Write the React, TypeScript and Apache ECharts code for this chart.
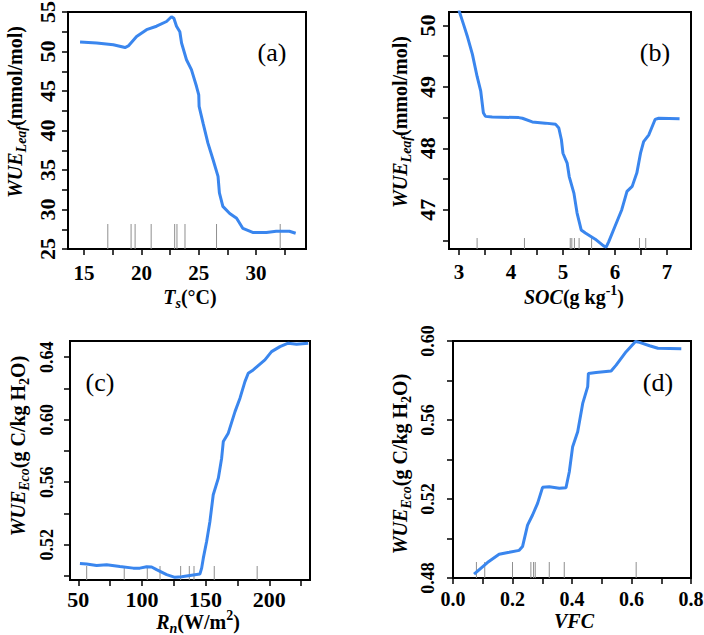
import React, { useEffect, useRef } from "react";
import * as echarts from "echarts";

// (a) leaf WUE response to soil temperature
const tsValues = [14.65, 16.1, 17.55, 18.57, 18.86, 19.58, 20.45, 21.32, 22.19, 22.62, 22.83, 23.06, 23.35, 23.5, 23.93, 24.36, 24.8, 25.0, 25.03, 25.38, 25.8, 26.25, 26.68, 26.8, 27.1, 27.7, 28.3, 28.85, 29.7, 30.9, 31.75, 32.9, 33.45];
const wueLeafTs = [51.2, 51.07, 50.86, 50.5, 50.7, 51.9, 52.76, 53.2, 53.8, 54.4, 54.2, 53.2, 52.5, 51.07, 48.96, 47.7, 45.6, 44.5, 43.05, 40.9, 38.4, 36.3, 34.2, 32.1, 30.4, 29.5, 28.9, 27.6, 27.1, 27.1, 27.25, 27.25, 27.0];
const tsRug = [17.07, 19.1, 19.45, 20.85, 22.9, 23.1, 23.8, 26.55, 32.1];

// (b) leaf WUE response to soil organic carbon
const socValues = [3.0, 3.1, 3.16, 3.26, 3.35, 3.42, 3.47, 3.51, 3.64, 4.15, 4.22, 4.41, 4.66, 4.86, 4.92, 4.97, 5.0, 5.08, 5.12, 5.21, 5.27, 5.35, 5.43, 5.62, 5.78, 5.83, 5.88, 6.0, 6.13, 6.23, 6.33, 6.42, 6.49, 6.55, 6.65, 6.77, 6.84, 7.24];
const wueLeafSoc = [50.25, 49.99, 49.83, 49.53, 49.17, 48.93, 48.58, 48.52, 48.51, 48.5, 48.49, 48.43, 48.41, 48.39, 48.33, 48.14, 47.92, 47.76, 47.54, 47.27, 46.95, 46.67, 46.62, 46.52, 46.41, 46.39, 46.48, 46.73, 47.0, 47.3, 47.38, 47.6, 47.92, 48.11, 48.22, 48.47, 48.49, 48.48];
const socRug = [3.35, 4.26, 5.14, 5.17, 5.22, 5.31, 5.55, 6.47, 6.59];

// (c) ecosystem WUE response to net radiation
const rnValues = [51.3, 56.5, 64.4, 72.3, 82.7, 93.2, 98.4, 103.7, 107.6, 111.5, 119.4, 125.9, 131.2, 137.7, 145.5, 146.9, 148.2, 150.8, 153.4, 156.0, 160.0, 162.6, 163.9, 167.8, 173.1, 177.0, 180.9, 183.5, 187.4, 196.6, 201.8, 208.4, 214.9, 221.5, 230.6];
const wueEcoRn = [0.508, 0.5076, 0.5067, 0.5072, 0.5061, 0.505, 0.505, 0.5059, 0.5057, 0.504, 0.5008, 0.4991, 0.4995, 0.5003, 0.5012, 0.505, 0.5114, 0.522, 0.5349, 0.552, 0.5626, 0.5754, 0.586, 0.5914, 0.6052, 0.6138, 0.6244, 0.6298, 0.6319, 0.6383, 0.6436, 0.6468, 0.649, 0.6483, 0.649];
const rnRug = [56.6, 86.1, 104.2, 114.2, 130.4, 137.2, 140.9, 156.8, 190.5];

// (d) ecosystem WUE response to vegetation fractional cover
const vfcValues = [0.0708, 0.0933, 0.1157, 0.155, 0.189, 0.2225, 0.2337, 0.2506, 0.2674, 0.2843, 0.3011, 0.3236, 0.3573, 0.3798, 0.391, 0.4022, 0.4191, 0.436, 0.4528, 0.4551, 0.4809, 0.5315, 0.5483, 0.582, 0.6135, 0.627, 0.6607, 0.6888, 0.7674];
const wueEcoVfc = [0.4819, 0.4849, 0.4878, 0.492, 0.493, 0.494, 0.4959, 0.5068, 0.5119, 0.5178, 0.5259, 0.5262, 0.5254, 0.5257, 0.5338, 0.5465, 0.5541, 0.5684, 0.5769, 0.5836, 0.5841, 0.5848, 0.5878, 0.5946, 0.5997, 0.5993, 0.5976, 0.5963, 0.5961];
const vfcRug = [0.0787, 0.1067, 0.2, 0.2618, 0.2708, 0.2764, 0.3236, 0.374, 0.6157];

// tick positions and labelled ticks
const tsTicks = [15, 17.5, 20, 22.5, 25, 27.5, 30, 32.5];
const tsLabels = [15, 20, 25, 30];
const wueTsTicks = [25, 27.5, 30, 32.5, 35, 37.5, 40, 42.5, 45, 47.5, 50, 52.5, 55];
const wueTsLabels = [25, 30, 35, 40, 45, 50, 55];
const socTicks = [3, 3.5, 4, 4.5, 5, 5.5, 6, 6.5, 7];
const socLabels = [3, 4, 5, 6, 7];
const wueSocTicks = [46.5, 47, 47.5, 48, 48.5, 49, 49.5, 50];
const wueSocLabels = [47, 48, 49, 50];
const rnTicks = [50, 75, 100, 125, 150, 175, 200, 225];
const rnLabels = [50, 100, 150, 200];
const wueRnTicks = [0.5, 0.52, 0.54, 0.56, 0.58, 0.6, 0.62, 0.64];
const wueRnLabels = [0.52, 0.56, 0.6, 0.64];
const vfcTicks = [0, 0.1, 0.2, 0.3, 0.4, 0.5, 0.6, 0.7, 0.8];
const vfcLabels = [0, 0.2, 0.4, 0.6, 0.8];
const wueVfcTicks = [0.48, 0.5, 0.52, 0.54, 0.56, 0.58, 0.6];
const wueVfcLabels = [0.48, 0.52, 0.56, 0.6];

const SERIF = "Liberation Serif";
const LINE_BLUE = "#3a86ee";
const RUG_GREY = "#8f8f8f";

const pairs = (xs: number[], ys: number[]) => xs.map((x, i) => [x, ys[i]]);

// panel boxes, tick-label distance from each axis and tick-label font sizes
const panels = [
  { left: 68, top: 12, width: 238, height: 237, xGap: 24, yGap: 21, xFont: 21, yFont: 22 },
  { left: 449, top: 12, width: 242, height: 237, xGap: 23, yGap: 22, xFont: 21, yFont: 22 },
  { left: 70, top: 341, width: 240, height: 239, xGap: 19, yGap: 23, xFont: 22, yFont: 18 },
  { left: 453, top: 341, width: 238, height: 237, xGap: 21, yGap: 25, xFont: 20, yFont: 18 },
];

const tickStyle = { show: true, inside: false, length: 6, lineStyle: { color: "#000", width: 1.5 } };

function axisDef(idx: number, range: number[], ticks: number[]) {
  return {
    type: "value",
    gridIndex: idx,
    min: range[0],
    max: range[1],
    axisLine: { show: false },
    splitLine: { show: false },
    axisTick: { ...tickStyle, customValues: ticks },
    axisLabel: { show: false },
  };
}

function curve(idx: number, xs: number[], ys: number[]) {
  return {
    type: "line",
    xAxisIndex: idx,
    yAxisIndex: idx,
    data: pairs(xs, ys),
    showSymbol: false,
    symbol: "none",
    lineStyle: { color: LINE_BLUE, width: 3 },
    z: 3,
    silent: true,
  };
}

// rug of observations along the bottom edge of a panel
function rug(idx: number, xs: number[], base: number, len: number) {
  return {
    type: "custom",
    xAxisIndex: idx,
    yAxisIndex: idx,
    data: xs.map((x) => [x, base]),
    silent: true,
    z: 2,
    renderItem: (_p: any, api: any) => {
      const pt = api.coord([api.value(0), api.value(1)]);
      return {
        type: "line",
        shape: { x1: pt[0], y1: pt[1], x2: pt[0], y2: pt[1] - len },
        style: { stroke: RUG_GREY, lineWidth: 1 },
      };
    },
  };
}

// tick labels placed through the panel's own scales
function tickLabels(idx: number, values: number[], base: number, digits: number, vertical: boolean) {
  const p = panels[idx];
  const gap = vertical ? p.yGap : p.xGap;
  const size = vertical ? p.yFont : p.xFont;
  return {
    type: "custom",
    xAxisIndex: idx,
    yAxisIndex: idx,
    clip: false,
    silent: true,
    z: 4,
    data: values.map((v) => (vertical ? [base, v] : [v, base])),
    renderItem: (_p: any, api: any) => {
      const x = api.value(0);
      const y = api.value(1);
      const pt = api.coord([x, y]);
      return {
        type: "text",
        x: vertical ? pt[0] - gap : pt[0],
        y: vertical ? pt[1] : pt[1] + gap,
        rotation: vertical ? Math.PI / 2 : 0,
        style: {
          text: (vertical ? y : x).toFixed(digits),
          fontFamily: SERIF,
          fontWeight: "bold",
          fontSize: size,
          fill: "#000",
          align: "center",
          verticalAlign: "middle",
        },
      };
    },
  };
}

const rich = {
  i: { fontFamily: SERIF, fontWeight: "bold", fontStyle: "italic", fontSize: 20, lineHeight: 27, fill: "#000" },
  n: { fontFamily: SERIF, fontWeight: "bold", fontSize: 20, lineHeight: 27, fill: "#000" },
  si: { fontFamily: SERIF, fontWeight: "bold", fontStyle: "italic", fontSize: 14, lineHeight: 14, verticalAlign: "bottom", fill: "#000" },
  sn: { fontFamily: SERIF, fontWeight: "bold", fontSize: 14, lineHeight: 14, verticalAlign: "bottom", fill: "#000" },
  sup: { fontFamily: SERIF, fontWeight: "bold", fontSize: 14, lineHeight: 14, verticalAlign: "top", fill: "#000" },
};

function title(text: string, x: number, y: number, vertical: boolean) {
  return {
    type: "text",
    x,
    y,
    rotation: vertical ? Math.PI / 2 : 0,
    silent: true,
    style: { text, rich, align: "center", verticalAlign: "middle", fill: "#000" },
  };
}

function tag(text: string, x: number, y: number) {
  return {
    type: "text",
    x,
    y,
    silent: true,
    style: { text, fontFamily: SERIF, fontSize: 26, fill: "#000", align: "center", verticalAlign: "middle" },
  };
}

export default function App() {
  const ref = useRef<HTMLDivElement>(null);

  useEffect(() => {
    if (!ref.current) return;
    const chart = echarts.init(ref.current, undefined, { renderer: "svg" });

    const xRanges = [[13.6, 34.35], [2.81, 7.46], [43.5, 232], [0, 0.8]];
    const yRanges = [[25, 55], [46.36, 50.22], [0.4974, 0.6504], [0.48, 0.6]];

    chart.setOption({
      animation: false,
      backgroundColor: "#fff",
      grid: panels.map((p) => ({
        left: p.left,
        top: p.top,
        width: p.width,
        height: p.height,
        show: true,
        borderColor: "#000",
        borderWidth: 2,
        backgroundColor: "transparent",
      })),
      xAxis: [
        axisDef(0, xRanges[0], tsTicks),
        axisDef(1, xRanges[1], socTicks),
        axisDef(2, xRanges[2], rnTicks),
        axisDef(3, xRanges[3], vfcTicks),
      ],
      yAxis: [
        axisDef(0, yRanges[0], wueTsTicks),
        axisDef(1, yRanges[1], wueSocTicks),
        axisDef(2, yRanges[2], wueRnTicks),
        axisDef(3, yRanges[3], wueVfcTicks),
      ],
      series: [
        rug(0, tsRug, yRanges[0][0], 25),
        rug(1, socRug, yRanges[1][0], 11),
        rug(2, rnRug, yRanges[2][0], 14),
        rug(3, vfcRug, yRanges[3][0], 16),
        curve(0, tsValues, wueLeafTs),
        curve(1, socValues, wueLeafSoc),
        curve(2, rnValues, wueEcoRn),
        curve(3, vfcValues, wueEcoVfc),
        tickLabels(0, tsLabels, yRanges[0][0], 0, false),
        tickLabels(1, socLabels, yRanges[1][0], 0, false),
        tickLabels(2, rnLabels, yRanges[2][0], 0, false),
        tickLabels(3, vfcLabels, yRanges[3][0], 1, false),
        tickLabels(0, wueTsLabels, xRanges[0][0], 0, true),
        tickLabels(1, wueSocLabels, xRanges[1][0], 0, true),
        tickLabels(2, wueRnLabels, xRanges[2][0], 2, true),
        tickLabels(3, wueVfcLabels, xRanges[3][0], 2, true),
      ],
      graphic: [
        title("{i|WUE}{si|Leaf}{n|(mmol/mol)}", 15, 112, true),
        title("{i|WUE}{si|Leaf}{n|(mmol/mol)}", 400, 122, true),
        title("{i|WUE}{si|Eco}{n|(g C/kg H}{sn|2}{n|O)}", 18, 446, true),
        title("{i|WUE}{si|Eco}{n|(g C/kg H}{sn|2}{n|O)}", 400, 464, true),
        title("{i|T}{si|s}{n|(°C)}", 190, 297, false),
        title("{i|SOC}{n|(g kg}{sup|-1}{n|)}", 574, 297, false),
        title("{i|R}{si|n}{n|(W/m}{sup|2}{n|)}", 198, 622, false),
        title("{i|VFC}", 574, 621, false),
        tag("(a)", 272, 52),
        tag("(b)", 655, 52),
        tag("(c)", 100, 382),
        tag("(d)", 658, 382),
      ],
    });

    return () => chart.dispose();
  }, []);

  return (
    <div
      ref={ref}
      style={{ position: "fixed", left: 0, top: 0, width: 704, height: 635, background: "#fff" }}
    />
  );
}
